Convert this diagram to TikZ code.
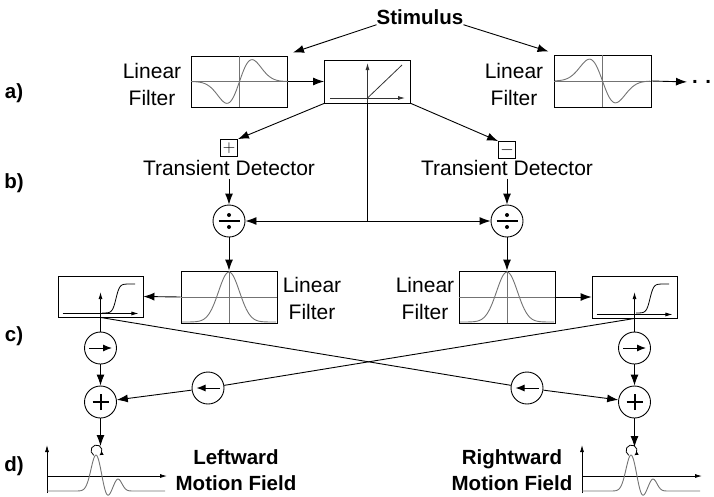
\documentclass[tikz,border=0pt]{standalone}
\usepackage{fontspec}
\setmainfont{Liberation Sans}
\usetikzlibrary{arrows.meta}

\begin{document}
\begin{tikzpicture}[x=1pt,y=-1pt,
    every node/.style={font=\fontsize{21}{27}\selectfont},
    box/.style={draw, line width=0.9pt, inner sep=0pt},
    op/.style={draw, circle, line width=0.9pt, minimum size=32pt, inner sep=0pt},
    sign/.style={draw, line width=0.8pt, minimum size=17pt, inner sep=0pt, font=\fontsize{17}{17}\selectfont},
    arr/.style={line width=0.9pt, -{Latex[length=11pt,width=8pt]}},
    con/.style={line width=0.9pt},
    trace/.style={black!55, line width=0.9pt},
    axis/.style={line width=0.8pt, -{Latex[length=7pt,width=4pt]}},
    lbl/.style={font=\fontsize{20.5}{26}\selectfont\bfseries}]
    \useasboundingbox (0,0) rectangle (714,496);

    % row labels
    \node[lbl] (la) at (14,93) {a)};
    \node[lbl] (lb) at (14,183) {b)};
    \node[lbl] (lc) at (14,336) {c)};
    \node[lbl] (ld) at (14,466) {d)};

    % a) stimulus, linear filters, rectifier
    \node[lbl, inner sep=0pt] (stim) at (420,17) {Stimulus};
    \node[box, minimum width=96pt, minimum height=51pt] (lfA) at (239.5,81.5) {};
    \node[align=center] (lfAtxt) at (152,84) {Linear\\Filter};
    \node[box, minimum width=86pt, minimum height=43pt] (rect) at (367.5,81.5) {};
    \node[box, minimum width=97pt, minimum height=52pt] (lfB) at (602.5,81) {};
    \node[align=center] (lfBtxt) at (514,84) {Linear\\Filter};
    \node[lbl, anchor=west, inner sep=2pt] (more) at (690,82) {. .};

    \draw[arr] (stim.south west) -- ([shift={(5,-3)}]lfA.north east);
    \draw[arr] (stim.south east) -- ([shift={(-5,-3)}]lfB.north west);
    \draw[arr] (lfA.east) -- (rect.west);
    \draw[arr, shorten >=3pt] (lfB.east) -- (more.west);

    \draw[trace] (lfA.west) -- (lfA.east);
    \draw[trace] (lfA.north) -- (lfA.south);
    \draw[trace] plot[domain=192:287, samples=80, smooth] (\x, {81.5-36*((\x-239.5)/12.5)*exp(-0.5*((\x-239.5)/12.5)^2)});
    \draw[trace] (lfB.west) -- (lfB.east);
    \draw[trace] (lfB.north) -- (lfB.south);
    \draw[trace] plot[domain=555:650, samples=80, smooth] (\x, {81+36*((\x-602.5)/13)*exp(-0.5*((\x-602.5)/13)^2)});

    \draw[axis, black!80] (rect.south) -- (367.5,63);
    \draw[axis, black!80] (330,98) -- (405,98);
    \draw[black!80, line width=0.8pt] (367.5,98) -- (402,65);

    % b) transient detectors and division
    \node[sign] (plusB) at (229,148) {$+$};
    \node[sign] (minusB) at (507,150) {$-$};
    \node[inner sep=3pt] (tdL) at (229,168) {Transient Detector};
    \node[inner sep=3pt] (tdR) at (507,168) {Transient Detector};
    \node[op] (divL) at (229,221) {};
    \node[op] (divR) at (507,221) {};
    \coordinate (jn) at (rect.south |- divL);

    \draw[arr] (rect.south west) -- (plusB.north east);
    \draw[arr] (rect.south east) -- (minusB.north west);
    \draw[arr] (tdL.south) -- (divL);
    \draw[arr] (tdR.south) -- (divR);
    \draw[con] (rect.south) -- (jn);
    \draw[arr] (jn) -- (divL);
    \draw[arr] (jn) -- (divR);
    \foreach \n in {divL,divR} {
        \draw[line width=1.6pt] ([xshift=-10.5pt]\n.center) -- ([xshift=10.5pt]\n.center);
        \fill ([yshift=6pt]\n.center) circle (2pt);
        \fill ([yshift=-6pt]\n.center) circle (2pt);
    }

    % c) spatial filters, thresholds, opponent stage
    \node[box, minimum width=96pt, minimum height=52pt] (gaussL) at (229,297) {};
    \node[box, minimum width=96pt, minimum height=52pt] (gaussR) at (507,297) {};
    \node[align=center] (gLtxt) at (312,298) {Linear\\Filter};
    \node[align=center] (gRtxt) at (425,298) {Linear\\Filter};
    \node[box, minimum width=85pt, minimum height=41pt] (sigL) at (100.5,296.5) {};
    \node[box, minimum width=85pt, minimum height=42pt] (sigR) at (634.5,297) {};

    \draw[arr] (divL) -- (gaussL.north);
    \draw[arr] (divR) -- (gaussR.north);
    \draw[arr] (gaussL.west) -- (sigL.east);
    \draw[arr] (gaussR.east) -- (sigR.west);

    \foreach \n/\c in {gaussL/229,gaussR/507} {
        \draw[trace] (\n.west) -- (\n.east);
        \draw[trace] (\n.north) -- (\n.south);
        \draw[trace] plot[domain={\c-47}:{\c+47}, samples=80, smooth] (\x, {322-50*exp(-0.5*((\x-\c)/10.5)^2)});
    }
    \foreach \n/\c in {sigL/116,sigR/650} {
        \draw[axis] (\n.south) -- ([yshift=-16.5pt]\n.north);
        \draw[axis] ([xshift=5pt,yshift=4pt]\n.south west) -- ([xshift=-5pt,yshift=4pt]\n.south east);
        \draw[line width=0.8pt] plot[domain={\c-14}:{\c+19}, samples=60, smooth] (\x, {313-29/(1+exp(-(\x-\c)/1.8))});
    }

    \node[op] (rtL) at (100.5,348) {};
    \node[op] (rtR) at (634.5,348) {};
    \node[op] (ltL) at (208,388) {};
    \node[op] (ltR) at (527,388) {};
    \node[op] (sumL) at (100.5,402) {};
    \node[op] (sumR) at (634.5,402) {};

    \draw[con] (sigL.south) -- (rtL);
    \draw[con] (sigR.south) -- (rtR);
    \draw[arr] (rtL) -- (sumL);
    \draw[arr] (rtR) -- (sumR);
    \draw[con] (sigL.south) -- (ltR);
    \draw[con] (sigR.south) -- (ltL);
    \draw[arr] (ltR) -- (sumR);
    \draw[arr] (ltL) -- (sumL);

    \foreach \n in {rtL,rtR}
        \draw[line width=1pt, -{Latex[length=9pt,width=7pt]}] ([xshift=-11.5pt]\n.center) -- ([xshift=11.5pt]\n.center);
    \foreach \n in {ltL,ltR}
        \draw[line width=1pt, -{Latex[length=9pt,width=7pt]}] ([xshift=11.5pt]\n.center) -- ([xshift=-11.5pt]\n.center);
    \foreach \n in {sumL,sumR} {
        \draw[line width=2pt] ([xshift=-8pt]\n.center) -- ([xshift=8pt]\n.center);
        \draw[line width=2pt] ([yshift=-8pt]\n.center) -- ([yshift=8pt]\n.center);
    }

    % d) motion fields
    \coordinate (pkL) at (100.5,446);
    \coordinate (pkR) at (634.5,447);
    \draw[arr] (sumL) -- (pkL);
    \draw[arr] (sumR) -- (pkR);
    \node[lbl, align=center, inner sep=1pt] (mfL) at (236,470) {Leftward\\Motion Field};
    \node[lbl, align=center, inner sep=1pt] (mfR) at (512,470) {Rightward\\Motion Field};

    \foreach \dx in {0,535} {
    \begin{scope}[shift={(\dx,0)}]
        \draw[axis] (47,493) -- (47,445);
        \draw[axis] (47,476) -- (167,476);
        \draw[trace] plot[domain=47:165, samples=150, smooth] (\x, {491-36*exp(-0.5*((\x-96)/5)^2)+7*exp(-0.5*((\x-107)/3.5)^2)-12*exp(-0.5*((\x-118)/4)^2)});
        \draw[line width=0.8pt, -{Latex[length=4pt,width=4pt]}] (93.75,455.26) arc[start angle=-240, end angle=60, radius=5.5];
    \end{scope}
    }
\end{tikzpicture}
\end{document}
